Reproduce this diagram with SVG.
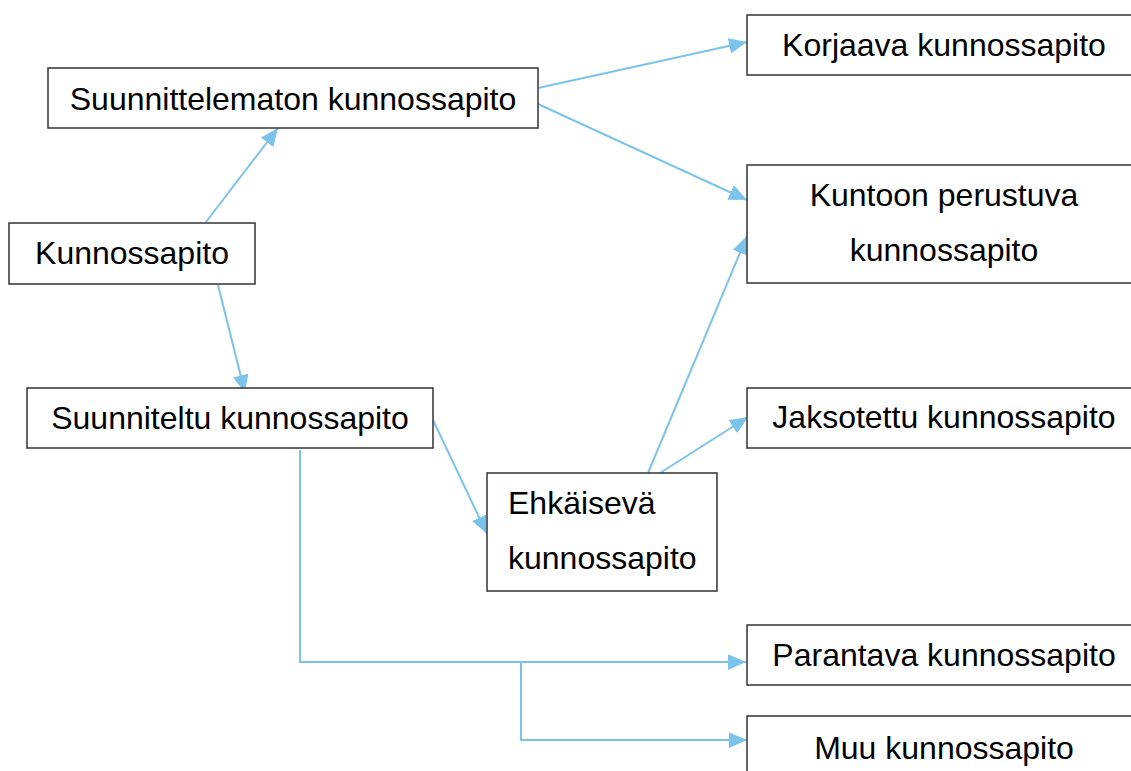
<svg xmlns="http://www.w3.org/2000/svg" width="1131" height="771" viewBox="0 0 1131 771">
<style>
.box{fill:#fff;stroke:#333;stroke-width:1.5}
.t{font-family:"Liberation Sans",Arial,sans-serif;font-size:32px;fill:#000}
.c{text-anchor:middle}
.ln{fill:none;stroke:#7CC3EC;stroke-width:2}
</style>
<defs>
<marker id="ah" markerUnits="userSpaceOnUse" markerWidth="18" markerHeight="16" refX="16" refY="7" orient="auto" viewBox="0 0 16 14">
<path d="M0,0 L16,7 L0,14 z" fill="#7CC3EC"/>
</marker>
</defs>
<rect width="1131" height="771" fill="#fff"/>
<g id="connectors">
<line class="ln" x1="206" y1="222" x2="278" y2="128" marker-end="url(#ah)"/>
<line class="ln" x1="538" y1="88" x2="747" y2="42" marker-end="url(#ah)"/>
<line class="ln" x1="538" y1="104" x2="747" y2="200" marker-end="url(#ah)"/>
<line class="ln" x1="218" y1="285" x2="245" y2="393" marker-end="url(#ah)"/>
<line class="ln" x1="433" y1="420" x2="487" y2="534" marker-end="url(#ah)"/>
<line class="ln" x1="648" y1="473" x2="747" y2="236" marker-end="url(#ah)"/>
<line class="ln" x1="660" y1="473" x2="748" y2="417" marker-end="url(#ah)"/>
<polyline class="ln" points="300,450 300,662 746,662" marker-end="url(#ah)"/>
<polyline class="ln" points="521,662 521,740 747,740" marker-end="url(#ah)"/>
</g>
<g id="n-korjaava"><rect class="box" x="747" y="15" width="390" height="60"/><text class="t c" x="944" y="56">Korjaava kunnossapito</text></g>
<g id="n-suunnittelematon"><rect class="box" x="48" y="68" width="490" height="60"/><text class="t c" x="293" y="110">Suunnittelematon kunnossapito</text></g>
<g id="n-kuntoon"><rect class="box" x="747" y="165" width="390" height="118"/><text class="t c" x="944" y="206">Kuntoon perustuva</text><text class="t c" x="944" y="261">kunnossapito</text></g>
<g id="n-kunnossapito"><rect class="box" x="9" y="223" width="246" height="61"/><text class="t c" x="132" y="264">Kunnossapito</text></g>
<g id="n-suunniteltu"><rect class="box" x="27" y="388" width="406" height="60"/><text class="t c" x="230" y="429">Suunniteltu kunnossapito</text></g>
<g id="n-jaksotettu"><rect class="box" x="747" y="388" width="390" height="60"/><text class="t c" x="944" y="428">Jaksotettu kunnossapito</text></g>
<g id="n-ehkaiseva"><rect class="box" x="487" y="473" width="230" height="118"/><text class="t" x="508" y="514">Ehkäisevä</text><text class="t" x="508" y="569">kunnossapito</text></g>
<g id="n-parantava"><rect class="box" x="747" y="625" width="390" height="60"/><text class="t c" x="944" y="666">Parantava kunnossapito</text></g>
<g id="n-muu"><rect class="box" x="747" y="716" width="390" height="70"/><text class="t c" x="944" y="759">Muu kunnossapito</text></g>
</svg>
